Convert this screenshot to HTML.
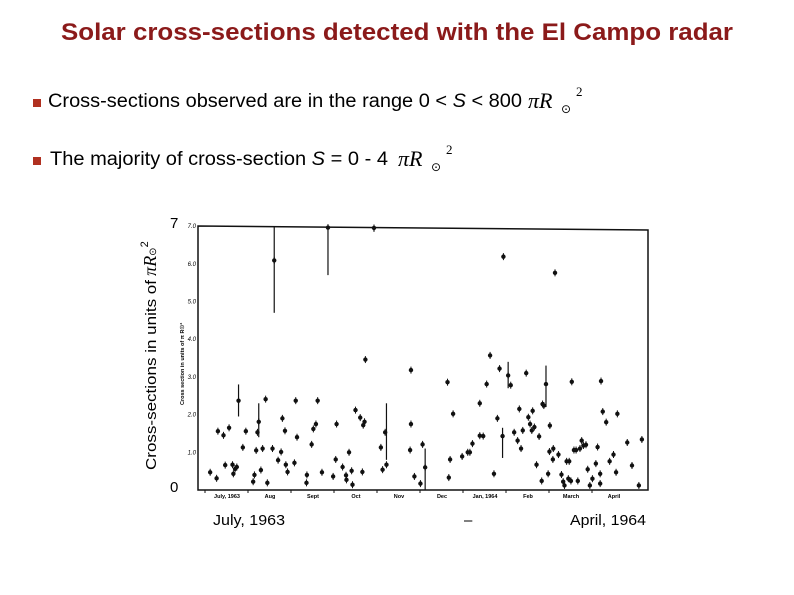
<!DOCTYPE html>
<html><head><meta charset="utf-8"><style>
body{margin:0;background:#fff;width:794px;height:595px;overflow:hidden;font-family:"Liberation Sans",sans-serif}
svg{position:absolute;left:0;top:0}
</style></head><body>
<svg width="794" height="595" viewBox="0 0 794 595">
<text x="397" y="40" text-anchor="middle" font-size="24" font-weight="bold" fill="#8b1a1a" textLength="672" lengthAdjust="spacingAndGlyphs">Solar cross-sections detected with the El Campo radar</text>
<g>
<rect x="33" y="99" width="8" height="8" fill="#b03020"/>
<text x="48" y="107" font-size="19" fill="#000" textLength="474" lengthAdjust="spacingAndGlyphs">Cross-sections observed are in the range 0 &lt; <tspan font-style="italic">S</tspan> &lt; 800</text>
<text x="528" y="108" font-size="22" font-family="Liberation Serif,serif" font-style="italic">πR</text><text x="561" y="113" font-size="12" font-family="DejaVu Sans">⊙</text><text x="576" y="96" font-size="13" font-family="Liberation Serif,serif">2</text>
</g>
<g>
<rect x="33" y="157" width="8" height="8" fill="#b03020"/>
<text x="50" y="165" font-size="19" fill="#000" textLength="338" lengthAdjust="spacingAndGlyphs">The majority of cross-section <tspan font-style="italic">S</tspan> = 0 - 4</text>
<text x="398" y="166" font-size="22" font-family="Liberation Serif,serif" font-style="italic">πR</text><text x="431" y="171" font-size="12" font-family="DejaVu Sans">⊙</text><text x="446" y="154" font-size="13" font-family="Liberation Serif,serif">2</text>
</g>
<text transform="translate(156,470) rotate(-90)" font-size="15"><tspan textLength="190" lengthAdjust="spacingAndGlyphs">Cross-sections in units of</tspan> <tspan font-family="Liberation Serif,serif" font-style="italic" font-size="18">πR</tspan><tspan font-size="10" font-family="DejaVu Sans">⊙</tspan><tspan dy="-8" font-size="11">2</tspan></text>
<text x="170" y="228" font-size="15">7</text>
<text x="170" y="492" font-size="15">0</text>
<text x="213" y="525" font-size="15" textLength="72" lengthAdjust="spacingAndGlyphs">July, 1963</text>
<text x="464" y="525" font-size="15">–</text>
<text x="570" y="525" font-size="15" textLength="76" lengthAdjust="spacingAndGlyphs">April, 1964</text>
<g id="chart"></g>
</svg>
<script>
const yTicks=[1,2,3,4,5,6,7];
const yTickLabels=["1.0","2.0","3.0","4.0","5.0","6.0","7.0"];
const months=["July, 1963","Aug","Sept","Oct","Nov","Dec","Jan, 1964","Feb","March","April"];
const ptMonth=[0.12,0.27,0.30,0.43,0.47,0.56,0.64,0.66,0.70,0.74,0.78,0.88,0.95,1.12,1.15,1.19,1.22,1.25,1.30,1.34,1.41,1.45,1.57,1.61,1.70,1.77,1.80,1.86,1.88,1.92,2.08,2.11,2.14,2.36,2.37,2.48,2.52,2.58,2.62,2.72,2.86,2.98,3.04,3.06,3.20,3.28,3.29,3.35,3.41,3.43,3.50,3.61,3.68,3.71,3.73,3.66,3.93,4.09,4.13,4.19,4.22,4.79,4.79,4.77,4.87,5.01,5.06,5.12,5.64,5.67,5.70,5.77,5.98,6.11,6.16,6.22,6.39,6.39,6.47,6.55,6.63,6.72,6.80,6.85,6.92,6.94,7.05,7.11,7.19,7.27,7.31,7.35,7.39,7.47,7.52,7.56,7.60,7.62,7.66,7.71,7.77,7.83,7.85,7.88,7.93,7.98,8.02,8.01,8.09,8.10,8.14,8.22,8.29,8.33,8.36,8.41,8.47,8.45,8.51,8.53,8.58,8.63,8.67,8.72,8.76,8.80,8.86,8.90,8.95,9.01,9.09,9.13,9.19,9.19,9.21,9.25,9.33,9.41,9.50,9.56,9.59,9.82,9.93,10.09,10.16];
const ptValue=[0.47,0.31,1.56,1.45,0.66,1.65,0.67,0.43,0.56,0.61,2.37,1.13,1.56,0.22,0.40,1.05,1.53,1.81,0.53,1.10,2.41,0.19,1.10,6.09,0.79,1.01,1.90,1.57,0.67,0.48,0.72,2.37,1.40,0.19,0.40,1.21,1.62,1.75,2.37,0.47,6.96,0.36,0.81,1.75,0.61,0.39,0.27,1.00,0.51,0.14,2.12,1.92,1.72,1.81,3.46,0.48,6.95,1.13,0.54,1.53,0.67,3.18,1.75,1.06,0.36,0.17,1.21,0.60,2.86,0.33,0.81,2.02,0.89,1.00,1.00,1.23,2.30,1.44,1.43,2.81,3.57,0.43,1.90,3.22,1.43,6.19,3.04,2.78,1.53,1.31,2.15,1.10,1.58,3.10,1.93,1.75,1.58,2.10,1.67,0.67,1.42,0.24,2.28,2.24,2.81,0.43,1.71,1.02,0.81,1.10,5.76,0.94,0.41,0.22,0.12,0.76,0.76,0.30,0.24,2.87,1.06,1.06,0.24,1.10,1.31,1.18,1.20,0.55,0.12,0.30,0.70,1.14,0.43,0.17,2.89,2.08,1.80,0.76,0.94,0.47,2.02,1.26,0.65,0.12,1.34];
const barMonth=[1.61,2.86,0.78,1.25,3.93,4.22,5.12,7.93,6.92,7.05];
const barLo=[4.7,5.7,1.95,1.4,6.85,0.8,0,2.2,0.85,2.7];
const barHi=[7.0,7.0,2.8,2.3,7.0,2.3,1.1,3.3,1.65,3.4];
const NS="http://www.w3.org/2000/svg";
const g=document.getElementById('chart');
const X=m=>205+m*43, Y=v=>490-v*37.7;
function mk(t,a){const e=document.createElementNS(NS,t);for(const k in a)e.setAttribute(k,a[k]);g.appendChild(e);return e;}
let f=mk('path',{d:`M198 226 L648 230 L648 490 L198 490 Z`,fill:'none',stroke:'#111','stroke-width':1.5});

yTicks.forEach((v,i)=>{let t=mk('text',{x:196,y:Y(v)+2,'font-size':6,'font-style':'italic','text-anchor':'end'});t.textContent=yTickLabels[i];
});
let it=mk('text',{transform:'translate(184,405) rotate(-90)','font-size':5.5,'font-weight':'bold'});it.textContent='Cross section in units of π R☉²';

months.forEach((m,i)=>{let t=mk('text',{x:X(i)+22,y:498,'font-size':5.5,'font-weight':'bold','text-anchor':'middle'});t.textContent=m;

let k=mk('line',{x1:X(i),x2:X(i),y1:490,y2:493,stroke:'#111'});});
barMonth.forEach((m,i)=>{let l=mk('line',{x1:X(m),x2:X(m),y1:Y(barLo[i]),y2:Y(barHi[i]),stroke:'#111','stroke-width':1.2});
});
ptMonth.forEach((m,i)=>{let c=mk('circle',{cx:X(m),cy:Y(ptValue[i]),r:2.2,fill:'#111'});

let l=mk('line',{x1:X(m),x2:X(m),y1:Y(ptValue[i])-3.5,y2:Y(ptValue[i])+3.5,stroke:'#111','stroke-width':1});
});
</script>
</body></html>
